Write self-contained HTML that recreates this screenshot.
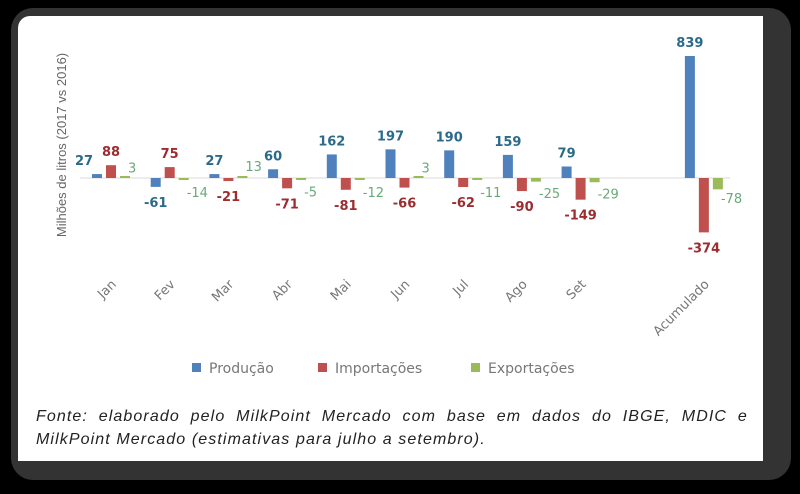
<!DOCTYPE html>
<html><head><meta charset="utf-8"><style>
html,body{margin:0;padding:0;background:#000;}
#wrap{position:relative;width:800px;height:494px;background:#000;overflow:hidden;}
#frame{position:absolute;left:11px;top:8px;width:780px;height:472px;background:#333;border-radius:22px;}
#panel{position:absolute;left:18px;top:16px;width:745px;height:445px;background:#fff;border-radius:12px 0 0 0;}
#cap{position:absolute;left:36px;top:405px;width:712px;font:italic 16px "Liberation Sans",sans-serif;color:#222;line-height:23px;letter-spacing:1.1px;}
#cap .l1{white-space:nowrap;display:flex;justify-content:space-between;}
svg{position:absolute;left:0;top:0;}
</style></head><body>
<div id="wrap">
<div id="frame"></div>
<div id="panel"></div>
<svg id="chart" width="800" height="494"></svg>
<div id="cap"><div class="l1"><span>Fonte:</span><span>elaborado</span><span>pelo</span><span>MilkPoint</span><span>Mercado</span><span>com</span><span>base</span><span>em</span><span>dados</span><span>do</span><span>IBGE,</span><span>MDIC</span><span>e</span></div><div>MilkPoint Mercado (estimativas para julho a setembro).</div></div>
</div>
<script>
const categories=["Jan","Fev","Mar","Abr","Mai","Jun","Jul","Ago","Set","Acumulado"];
const slots=[0,1,2,3,4,5,6,7,8,10.1];
const producao=[27,-61,27,60,162,197,190,159,79,839];
const importacoes=[88,75,-21,-71,-81,-66,-62,-90,-149,-374];
const exportacoes=[3,-14,13,-5,-12,3,-11,-25,-29,-78];
const seriesNames=["Produção","Importações","Exportações"];
const NS="http://www.w3.org/2000/svg";
const svg=document.getElementById('chart');
const zeroY=178, scale=122/839;
function y(v){return zeroY-v*scale;}
function x(slot){return 97+58.7*slot;}
function mk(t,a){const e=document.createElementNS(NS,t);for(const k in a)e.setAttribute(k,a[k]);svg.appendChild(e);return e;}
const axis=mk('line',{x1:80,x2:730,y1:zeroY,y2:zeroY,stroke:'#d9d9d9','stroke-width':1});


const yt=mk('text',{x:0,y:0,transform:'translate(66,145) rotate(-90)','text-anchor':'middle','font-family':'Liberation Sans, sans-serif','font-size':13,fill:'#666'});
yt.textContent='Milhões de litros (2017 vs 2016)';


const series=[producao,importacoes,exportacoes];
const fills=['#4f81bd','#c0504d','#9bbb59'];
const lblCol=['#2c6a8a','#9b2d30','#6aaa7a'];
const keys=['producao','importacoes','exportacoes'];
series.forEach((arr,s)=>{
  arr.forEach((v,i)=>{
    const cx=x(slots[i])+14*s;
    const h=Math.max(Math.abs(y(v)-zeroY),2);
    const r=mk('rect',{x:cx-5,y:v>=0?zeroY-h:zeroY,width:10,height:h,fill:fills[s]});
    
    
    let lx=cx, ly, anchor='middle';
    if(s===2){lx=cx+3;anchor='start';ly=v>=0?y(v)-5:zeroY+18+Math.max(0,(y(v)-zeroY)*0.6);}
    else if(s===0&&i===0){lx=cx-13;ly=y(v)-9;}
    else{ly=v>=0?y(v)-9:y(v)+20;}
    const t=mk('text',{x:lx,y:ly,'text-anchor':anchor,'font-family':'DejaVu Sans, sans-serif','font-size':13,'font-weight':s===2?'normal':'bold',fill:lblCol[s]});
    t.textContent=String(v);
    
    
  });
});
categories.forEach((c,i)=>{
  const ax=x(slots[i])+20, ay=285;
  const t=mk('text',{x:ax,y:ay,transform:`rotate(-45 ${ax} ${ay})`,'text-anchor':'end','font-family':'DejaVu Sans, sans-serif','font-size':13,fill:'#777'});
  t.textContent=c;
  
  
});
const legX=[192,318,471];
seriesNames.forEach((n,s)=>{
  const sq=mk('rect',{x:legX[s],y:363,width:9,height:9,fill:fills[s]});
  
  
  const t=mk('text',{x:legX[s]+17,y:373,'font-family':'DejaVu Sans, sans-serif','font-size':14,fill:'#777'});
  t.textContent=n;
  
  
});
</script>
</body></html>
